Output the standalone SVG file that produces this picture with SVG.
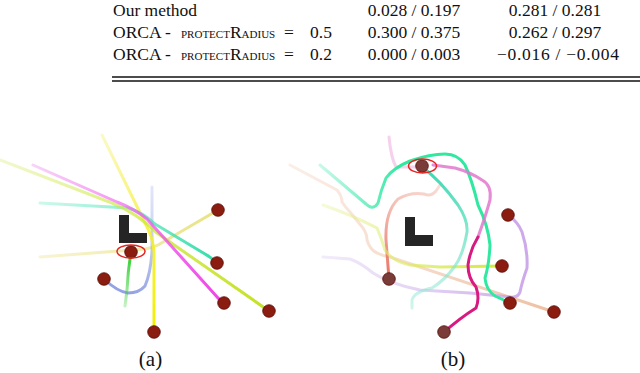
<svg xmlns="http://www.w3.org/2000/svg" width="640" height="373" viewBox="0 0 640 373">
<style>
.t{font-family:"Liberation Serif","Times New Roman",serif;font-size:17.5px;fill:#111}
.sc{font-variant:small-caps;font-size:15.5px}
.cap{font-family:"Liberation Serif","Times New Roman",serif;font-size:21px;fill:#111;text-anchor:middle}
.tr{fill:none;stroke-width:3;stroke-linecap:round;stroke-linejoin:round}
.ag{stroke:#5a0e08;stroke-width:0.8}
.rd{fill:#8a1c10}
.br{fill:#7a3c38}
.ring{fill:none;stroke:#e52420;stroke-width:1.5}
.L{fill:#252525}
</style>
<defs>
<linearGradient id="gYG" gradientUnits="userSpaceOnUse" x1="0" y1="160" x2="269" y2="311"><stop offset="0" stop-color="#d8ec70" stop-opacity="0.35"/><stop offset="0.5" stop-color="#cce838" stop-opacity="0.75"/><stop offset="1" stop-color="#c4e020"/></linearGradient>
<linearGradient id="gMg" gradientUnits="userSpaceOnUse" x1="33" y1="165" x2="224" y2="303"><stop offset="0" stop-color="#f090f0" stop-opacity="0.4"/><stop offset="0.5" stop-color="#f060ec" stop-opacity="0.8"/><stop offset="1" stop-color="#f040e8"/></linearGradient>
<linearGradient id="gTl" gradientUnits="userSpaceOnUse" x1="40" y1="203" x2="217" y2="263"><stop offset="0" stop-color="#70ecc8" stop-opacity="0.35"/><stop offset="1" stop-color="#30dca8"/></linearGradient>
<linearGradient id="gPy" gradientUnits="userSpaceOnUse" x1="40" y1="257" x2="218" y2="210"><stop offset="0" stop-color="#ece080" stop-opacity="0.35"/><stop offset="1" stop-color="#e0dc60" stop-opacity="0.8"/></linearGradient>
<linearGradient id="gYe" gradientUnits="userSpaceOnUse" x1="102" y1="135" x2="154" y2="332"><stop offset="0" stop-color="#f4f070" stop-opacity="0.4"/><stop offset="0.5" stop-color="#f4f030" stop-opacity="0.85"/><stop offset="1" stop-color="#f0f000"/></linearGradient>
<linearGradient id="gPb" gradientUnits="userSpaceOnUse" x1="152" y1="187" x2="104" y2="279"><stop offset="0" stop-color="#c0c8f4" stop-opacity="0.45"/><stop offset="1" stop-color="#8898e0" stop-opacity="0.9"/></linearGradient>
<linearGradient id="gGr" gradientUnits="userSpaceOnUse" x1="131" y1="252" x2="125" y2="306"><stop offset="0" stop-color="#20cc20"/><stop offset="1" stop-color="#40d040" stop-opacity="0.3"/></linearGradient>
<linearGradient id="gPe" gradientUnits="userSpaceOnUse" x1="290" y1="165" x2="554" y2="312"><stop offset="0" stop-color="#f0c8b0" stop-opacity="0.3"/><stop offset="0.5" stop-color="#f0c4a8" stop-opacity="0.6"/><stop offset="1" stop-color="#eebc9c" stop-opacity="0.95"/></linearGradient>
<linearGradient id="gCo" gradientUnits="userSpaceOnUse" x1="389" y1="279" x2="440" y2="185"><stop offset="0" stop-color="#e86050" stop-opacity="0.9"/><stop offset="1" stop-color="#f0b8a8" stop-opacity="0.45"/></linearGradient>
<linearGradient id="gMi" gradientUnits="userSpaceOnUse" x1="320" y1="165" x2="400" y2="165"><stop offset="0" stop-color="#60ecc0" stop-opacity="0.35"/><stop offset="1" stop-color="#30e8a0"/></linearGradient>
<linearGradient id="gTe" gradientUnits="userSpaceOnUse" x1="422" y1="167" x2="412" y2="308"><stop offset="0" stop-color="#38d8b0"/><stop offset="1" stop-color="#a0ecd8" stop-opacity="0.5"/></linearGradient>
<linearGradient id="gLa" gradientUnits="userSpaceOnUse" x1="508" y1="215" x2="323" y2="257"><stop offset="0" stop-color="#c8a0e8" stop-opacity="0.9"/><stop offset="1" stop-color="#d8c8f0" stop-opacity="0.35"/></linearGradient>
<linearGradient id="gLi" gradientUnits="userSpaceOnUse" x1="323" y1="205" x2="502" y2="266"><stop offset="0" stop-color="#e4f090" stop-opacity="0.35"/><stop offset="1" stop-color="#d4e838"/></linearGradient>
</defs>
<rect width="640" height="373" fill="#fff"/>

<g id="table">
<text class="t" x="113" y="15.6">Our method</text>
<text class="t" x="113" y="37.5">ORCA -<tspan x="181" class="sc">protect</tspan>R<tspan class="sc">adius</tspan><tspan x="284">=</tspan><tspan x="310">0.5</tspan></text>
<text class="t" x="113" y="60">ORCA -<tspan x="181" class="sc">protect</tspan>R<tspan class="sc">adius</tspan><tspan x="284">=</tspan><tspan x="310">0.2</tspan></text>
<g style="text-anchor:middle">
<text class="t" x="414" y="15.6">0.028 / 0.197</text>
<text class="t" x="414" y="37.5">0.300 / 0.375</text>
<text class="t" x="414" y="60">0.000 / 0.003</text>
<text class="t" x="555" y="15.6">0.281 / 0.281</text>
<text class="t" x="555" y="37.5">0.262 / 0.297</text>
</g>
<text class="t" x="497" y="60" textLength="122" lengthAdjust="spacing">−0.016 / −0.004</text>
<line x1="112" y1="77" x2="640" y2="77" stroke="#111" stroke-width="1.3"/>
<line x1="112" y1="81" x2="640" y2="81" stroke="#111" stroke-width="1.3"/>
</g>

<g id="trails-a">
<path class="tr" stroke="url(#gPy)" d="M40,257 L145,249 Q152,248 158,245 L218,210"/>
<path class="tr" stroke="url(#gPb)" stroke-width="2.5" d="M152,187 L152,250 Q151,272 145,286 Q139,293 128,293 Q118,292 104,279"/>
<path class="tr" stroke="url(#gYe)" d="M102,135 L147,227 Q153,238 154,252 L154,332"/>
<path class="tr" stroke="url(#gTl)" d="M40,203 L128,208 Q142,212 155,224 L205,254 Q212,258 217,263"/>
<path class="tr" stroke="url(#gYG)" d="M0,160 L112,203 Q137,213 157,233 L269,311"/>
<path class="tr" stroke="url(#gMg)" d="M33,165 L117,202 Q135,209 147,219 L218,298 L224,303"/>
<path class="tr" stroke="url(#gGr)" d="M131,252 Q128,270 127,290 L125,306"/>
</g>

<g id="trails-b">
<path class="tr" stroke="url(#gPe)" d="M290,165 L337,190 Q342,196 342,202 Q346,208 350,212 L363,228 Q367,234 367,240 Q370,250 377,253 Q383,256 390,257 L554,312"/>
<path class="tr" stroke="#f0b0e0" stroke-opacity="0.6" stroke-width="2.5" d="M389,137 Q391,158 396,167 L422,167"/>
<path class="tr" stroke="url(#gCo)" d="M389,279 L386,240 Q385,212 398,199 Q410,192 424,194 Q431,197 436,191 L440,185"/>
<path class="tr" stroke="url(#gLa)" d="M508,215 Q518,222 522,232 Q528,250 527,268 Q522,282 520,292 Q518,298 510,297 L470,293 L420,290 Q390,284 373,273 Q361,263 350,259 L323,257"/>
<path class="tr" stroke="url(#gLi)" d="M323,205 Q352,215 377,228 Q382,240 385,250 Q392,261 410,265 L440,267 L502,266"/>
<path class="tr" stroke="url(#gTe)" d="M422,167 Q440,180 458,205 Q468,220 467,232 Q463,255 455,266 Q445,280 432,288 Q414,292 412,300 L412,308"/>
<path class="tr" stroke="url(#gMi)" d="M320,165 L366,204 Q373,211 378,203 Q381,190 386,178 Q393,168 410,161 Q430,154 445,154 Q458,154 465,165 Q472,180 478,205 Q488,225 490,245 Q489,265 485,278 Q486,290 495,296 L508,302"/>
<path class="tr" stroke="#e078cc" stroke-opacity="0.85" d="M478,237 Q486,215 490,200 Q492,185 482,180 Q470,172 455,168 L433,165"/>
<path class="tr" stroke="#d81a80" d="M443,333 Q460,318 476,308 Q480,298 476,287 Q468,278 468,265 Q470,250 478,237"/>
</g>

<g id="obstacle-a"><rect class="L" x="119" y="215" width="10" height="28"/><rect class="L" x="119" y="233" width="28" height="10"/></g>
<g id="obstacle-b"><rect class="L" x="405" y="217" width="10" height="29"/><rect class="L" x="416" y="235" width="17" height="11"/><rect class="L" x="405" y="235" width="11" height="11"/></g>

<g id="agents-a">
<circle id="a1" class="ag rd" cx="218" cy="210" r="6.3"/>
<circle id="a2" class="ag rd" cx="217" cy="263" r="6.3"/>
<circle id="a3" class="ag rd" cx="224" cy="303" r="6.3"/>
<circle id="a4" class="ag rd" cx="269" cy="311" r="6.3"/>
<circle id="a5" class="ag rd" cx="154" cy="332" r="6.3"/>
<circle id="a6" class="ag rd" cx="104" cy="279" r="6.3"/>
<g id="a7"><circle class="ag rd" cx="131" cy="252" r="6.3"/><ellipse class="ring" cx="131" cy="251.5" rx="14" ry="6.5"/></g>
</g>

<g id="agents-b">
<g id="b1"><circle class="ag br" cx="422" cy="166" r="6.3"/><ellipse class="ring" cx="422.5" cy="166" rx="14" ry="7"/></g>
<circle id="b2" class="ag rd" cx="508" cy="215" r="6.3"/>
<circle id="b3" class="ag rd" cx="502" cy="266" r="6.3"/>
<circle id="b4" class="ag br" cx="389" cy="279" r="6.3"/>
<circle id="b5" class="ag rd" cx="510" cy="303" r="6.3"/>
<circle id="b6" class="ag rd" cx="554" cy="312" r="6.3"/>
<circle id="b7" class="ag br" cx="444" cy="332" r="6.3"/>
</g>

<text class="cap" x="150.5" y="366">(a)</text>
<text class="cap" x="453" y="366">(b)</text>
</svg>
